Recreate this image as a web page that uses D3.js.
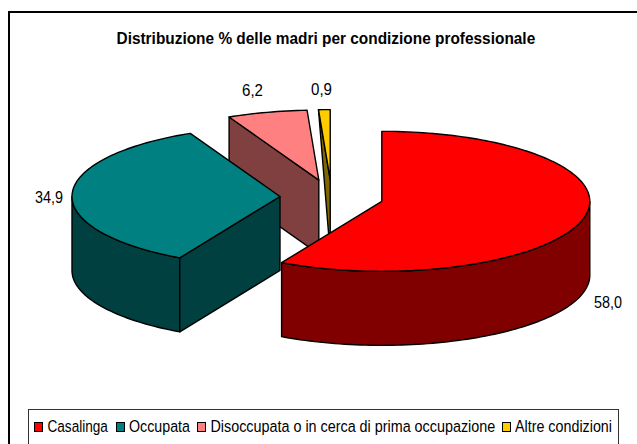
<!DOCTYPE html>
<html>
<head>
<meta charset="utf-8">
<style>
  html, body { margin: 0; padding: 0; background: #fff; overflow: hidden; }
  svg { display: block; font-family: "Liberation Sans", Arial, sans-serif; }
</style>
</head>
<body>
<svg id="chart" width="637" height="444"></svg>
<script src="https://cdn.jsdelivr.net/npm/d3@7"></script>
<script>
const titleText = 'Distribuzione % delle madri per condizione professionale';
const categories = ['Casalinga', 'Occupata', 'Disoccupata o in cerca di prima occupazione', 'Altre condizioni'];
const values = [58.0, 34.9, 6.2, 0.9];
const topColors = ['#ff0000', '#008080', '#ff8080', '#ffcc00'];
const sideColors = ['#800000', '#004040', '#804040', '#806600'];

// layout
const center = { x: 331.7, y: 197 };
const rx = 208;
const ry = 70;
const depth = 74;
const explode = 0.2487;
const labelX = [594, 35, 242, 311];
const labelY = [308, 203, 96, 95];
const labelW = [28, 28, 21, 21];
const legendSwatchX = [34, 116, 197, 502];
const legendTextX = [47.5, 129, 210.5, 515];
const legendTextW = [60.5, 61, 285, 97];

const svg = d3.select('#chart');

// unit circle -> flattened ellipse
const xScale = d3.scaleLinear().domain([-1, 1]).range([-rx, rx]);
const yScale = d3.scaleLinear().domain([-1, 1]).range([ry, -ry]);

const slices = d3.pie().sort(null).value((d) => d)(values);
const line = d3.line();

function rim(c, a, dy = 0) {
    return [c.x + xScale(Math.sin(a)), c.y + yScale(Math.cos(a)) + dy];
}

function arcPoints(c, a0, a1, dy = 0) {
    const n = Math.max(2, Math.ceil((a1 - a0) * 40));
    return d3.range(n + 1).map((i) => rim(c, a0 + ((a1 - a0) * i) / n, dy));
}

// the original type is narrower than Liberation Sans, squeeze it to the measured width
function fitText(sel, x, y, w) {
    sel.attr('transform', function (d, i) {
        const sx = w(d, i) / this.getComputedTextLength();
        return `translate(${x(d, i)},${y(d, i)}) scale(${sx},1)`;
    });
}

// frame of the chart area runs off the right and bottom of the picture
svg.append('rect')
    .attr('x', 9).attr('y', 12)
    .attr('width', 660).attr('height', 460)
    .attr('fill', '#fff')
    .attr('stroke', '#000')
    .attr('stroke-width', 2);

svg.append('text')
    .attr('font-size', 17)
    .attr('font-weight', 'bold')
    .attr('fill', '#000')
    .text(titleText)
    .call(fitText, () => 116.5, () => 44, () => 419);

// back to front: yellow, pink, teal, red
const drawOrder = [3, 2, 1, 0];

drawOrder.forEach((i) => {
    const s = slices[i];
    const mid = (s.startAngle + s.endAngle) / 2;
    const c = {
        x: center.x + explode * xScale(Math.sin(mid)),
        y: center.y + explode * yScale(Math.cos(mid)),
    };
    const g = svg.append('g')
        .attr('stroke', '#000')
        .attr('stroke-width', 1.4)
        .attr('stroke-linejoin', 'round');

    // outer wall, only the part facing the viewer
    const a0 = Math.max(s.startAngle, Math.PI / 2);
    const a1 = Math.min(s.endAngle, (3 * Math.PI) / 2);
    if (a1 > a0) {
        const wall = arcPoints(c, a0, a1).concat(arcPoints(c, a0, a1, depth).reverse());
        g.append('path').attr('d', line(wall) + 'Z').attr('fill', sideColors[i]);
    }

    // cut faces
    [s.startAngle, s.endAngle].forEach((a, k) => {
        const visible = k === 0 ? Math.sin(a) < 0 : Math.sin(a) > 0 && a > 0;
        if (!visible || a >= 2 * Math.PI) return;
        const outer = rim(c, a);
        const face = [outer, [c.x, c.y], [c.x, c.y + depth]];
        // the thin slice comes out as a triangle in the original
        if (s.endAngle - s.startAngle > 0.1) face.push([outer[0], outer[1] + depth]);
        g.append('path').attr('d', line(face) + 'Z').attr('fill', sideColors[i]);
    });

    // top
    const top = [[c.x, c.y]].concat(arcPoints(c, s.startAngle, s.endAngle));
    g.append('path').attr('d', line(top) + 'Z').attr('fill', topColors[i]);
});

svg.selectAll('.value-label')
    .data(values)
    .enter()
    .append('text')
    .attr('class', 'value-label')
    .attr('font-size', 16)
    .attr('fill', '#000')
    .text((d) => d.toFixed(1).replace('.', ','))
    .call(fitText, (d, i) => labelX[i], (d, i) => labelY[i], (d, i) => labelW[i]);

// legend box, bottom edge is cut off by the picture
svg.append('rect')
    .attr('x', 28.5).attr('y', 409.5)
    .attr('width', 590).attr('height', 50)
    .attr('fill', '#fff')
    .attr('stroke', '#333')
    .attr('stroke-width', 1);

const legend = svg.selectAll('.legend-item')
    .data(categories)
    .enter()
    .append('g')
    .attr('class', 'legend-item');

legend.append('rect')
    .attr('x', (d, i) => legendSwatchX[i] + 0.5)
    .attr('y', 422.5)
    .attr('width', 8)
    .attr('height', 9)
    .attr('fill', (d, i) => topColors[i])
    .attr('stroke', '#000')
    .attr('stroke-width', 1);

legend.append('text')
    .attr('font-size', 17)
    .attr('fill', '#000')
    .text((d) => d)
    .call(fitText, (d, i) => legendTextX[i], () => 432, (d, i) => legendTextW[i]);
</script>
</body>
</html>
